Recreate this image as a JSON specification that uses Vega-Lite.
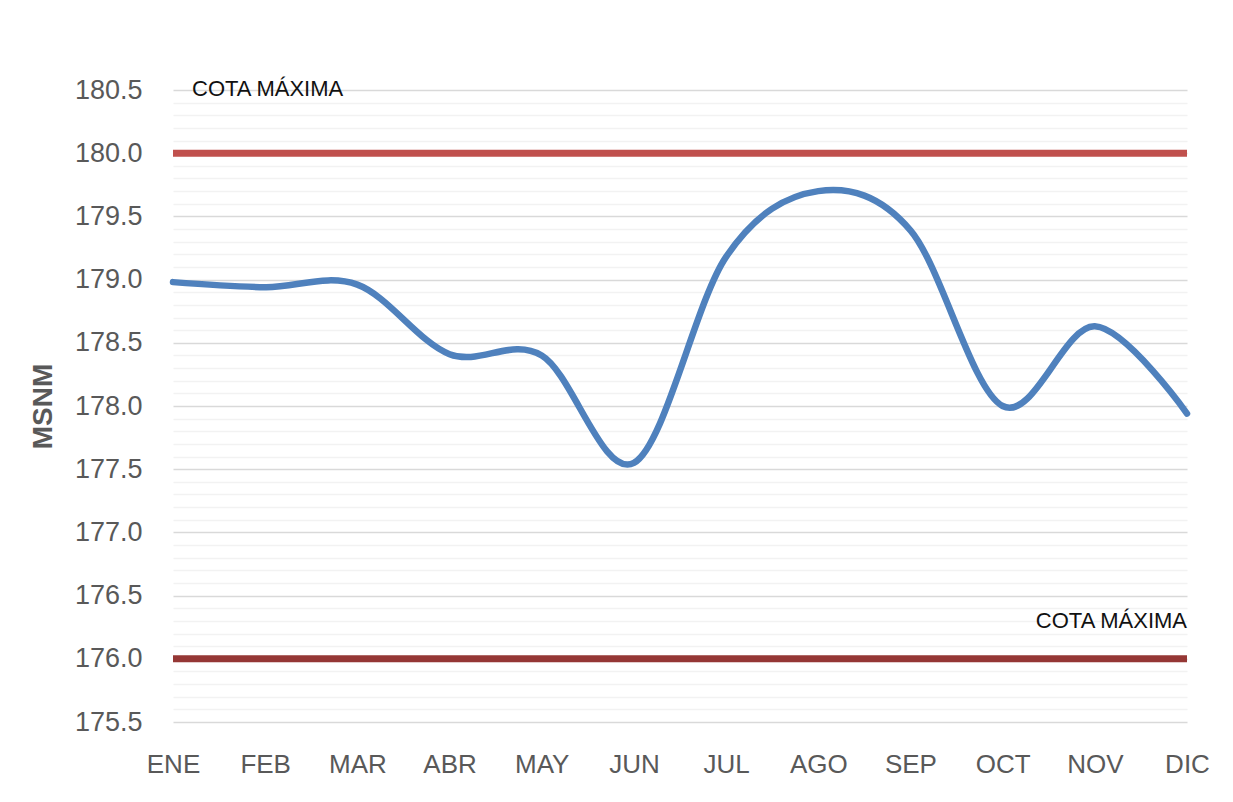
{
  "$schema": "https://vega.github.io/schema/vega-lite/v6.json",
  "width": 1014,
  "height": 632,
  "autosize": {"type": "none"},
  "padding": {"left": 173, "top": 90, "right": 46, "bottom": 80},
  "background": "white",
  "config": {"view": {"stroke": null}},
  "layer": [
    {
      "data": {"values": [{}]},
      "mark": {"type": "rule", "color": "#C0504D", "strokeWidth": 7},
      "encoding": {"y": {"datum": 180, "type": "quantitative", "scale": {"domain": [175.5, 180.5], "nice": false, "zero": false}}}
    },
    {
      "data": {"values": [{}]},
      "mark": {"type": "rule", "color": "#953735", "strokeWidth": 7},
      "encoding": {"y": {"datum": 176, "type": "quantitative"}}
    },
    {
      "data": {"values": [
        {"mes": "ENE", "msnm": 178.98},
        {"mes": "FEB", "msnm": 178.94},
        {"mes": "MAR", "msnm": 178.96},
        {"mes": "ABR", "msnm": 178.41},
        {"mes": "MAY", "msnm": 178.40},
        {"mes": "JUN", "msnm": 177.55},
        {"mes": "JUL", "msnm": 179.18},
        {"mes": "AGO", "msnm": 179.70},
        {"mes": "SEP", "msnm": 179.39},
        {"mes": "OCT", "msnm": 178.00},
        {"mes": "NOV", "msnm": 178.63},
        {"mes": "DIC", "msnm": 177.94}
      ]},
      "mark": {"type": "line", "interpolate": "cardinal", "tension": 0, "color": "#4F81BD", "strokeWidth": 6.5, "strokeCap": "round"},
      "encoding": {
        "x": {
          "field": "mes", "type": "ordinal", "sort": null,
          "scale": {"type": "point", "padding": 0},
          "axis": {"title": null, "labelAngle": 0, "ticks": false, "domain": false, "grid": false,
                   "labelFont": "Liberation Sans", "labelFontSize": 26, "labelColor": "#595959", "labelPadding": 29}
        },
        "y": {
          "field": "msnm", "type": "quantitative",
          "scale": {"domain": [175.5, 180.5], "nice": false, "zero": false},
          "axis": {
            "title": "MSNM", "titleFont": "Liberation Sans", "titleFontSize": 28, "titleFontWeight": "bold", "titleColor": "#595959", "titlePadding": 17,
            "tickCount": 100,
            "values": [175.5,175.6,175.7,175.8,175.9,176.0,176.1,176.2,176.3,176.4,176.5,176.6,176.7,176.8,176.9,177.0,177.1,177.2,177.3,177.4,177.5,177.6,177.7,177.8,177.9,178.0,178.1,178.2,178.3,178.4,178.5,178.6,178.7,178.8,178.9,179.0,179.1,179.2,179.3,179.4,179.5,179.6,179.7,179.8,179.9,180.0,180.1,180.2,180.3,180.4,180.5],
            "labelExpr": "abs(datum.value*2 - round(datum.value*2)) < 0.01 ? format(datum.value, '.1f') : ''",
            "labelOverlap": false,
            "labelFont": "Liberation Sans", "labelFontSize": 27, "labelColor": "#595959", "labelPadding": 31,
            "ticks": false, "domain": false,
            "grid": true, "gridWidth": 1.5,
            "gridColor": {"condition": {"test": "abs(datum.value*2 - round(datum.value*2)) < 0.01", "value": "#D9D9D9"}, "value": "#F2F2F2"}
          }
        }
      }
    },
    {
      "data": {"values": [{}]},
      "mark": {"type": "text", "text": "COTA MÁXIMA", "align": "left", "baseline": "middle", "dx": 19, "dy": -1, "font": "Liberation Sans", "fontSize": 22, "fontWeight": "normal", "fill": "#111111"},
      "encoding": {"x": {"datum": "ENE", "type": "ordinal"}, "y": {"datum": 180.5, "type": "quantitative"}}
    },
    {
      "data": {"values": [{}]},
      "mark": {"type": "text", "text": "COTA MÁXIMA", "align": "right", "baseline": "middle", "font": "Liberation Sans", "fontSize": 22, "fontWeight": "normal", "fill": "#111111"},
      "encoding": {"x": {"datum": "DIC", "type": "ordinal"}, "y": {"datum": 176.3, "type": "quantitative"}}
    }
  ]
}
